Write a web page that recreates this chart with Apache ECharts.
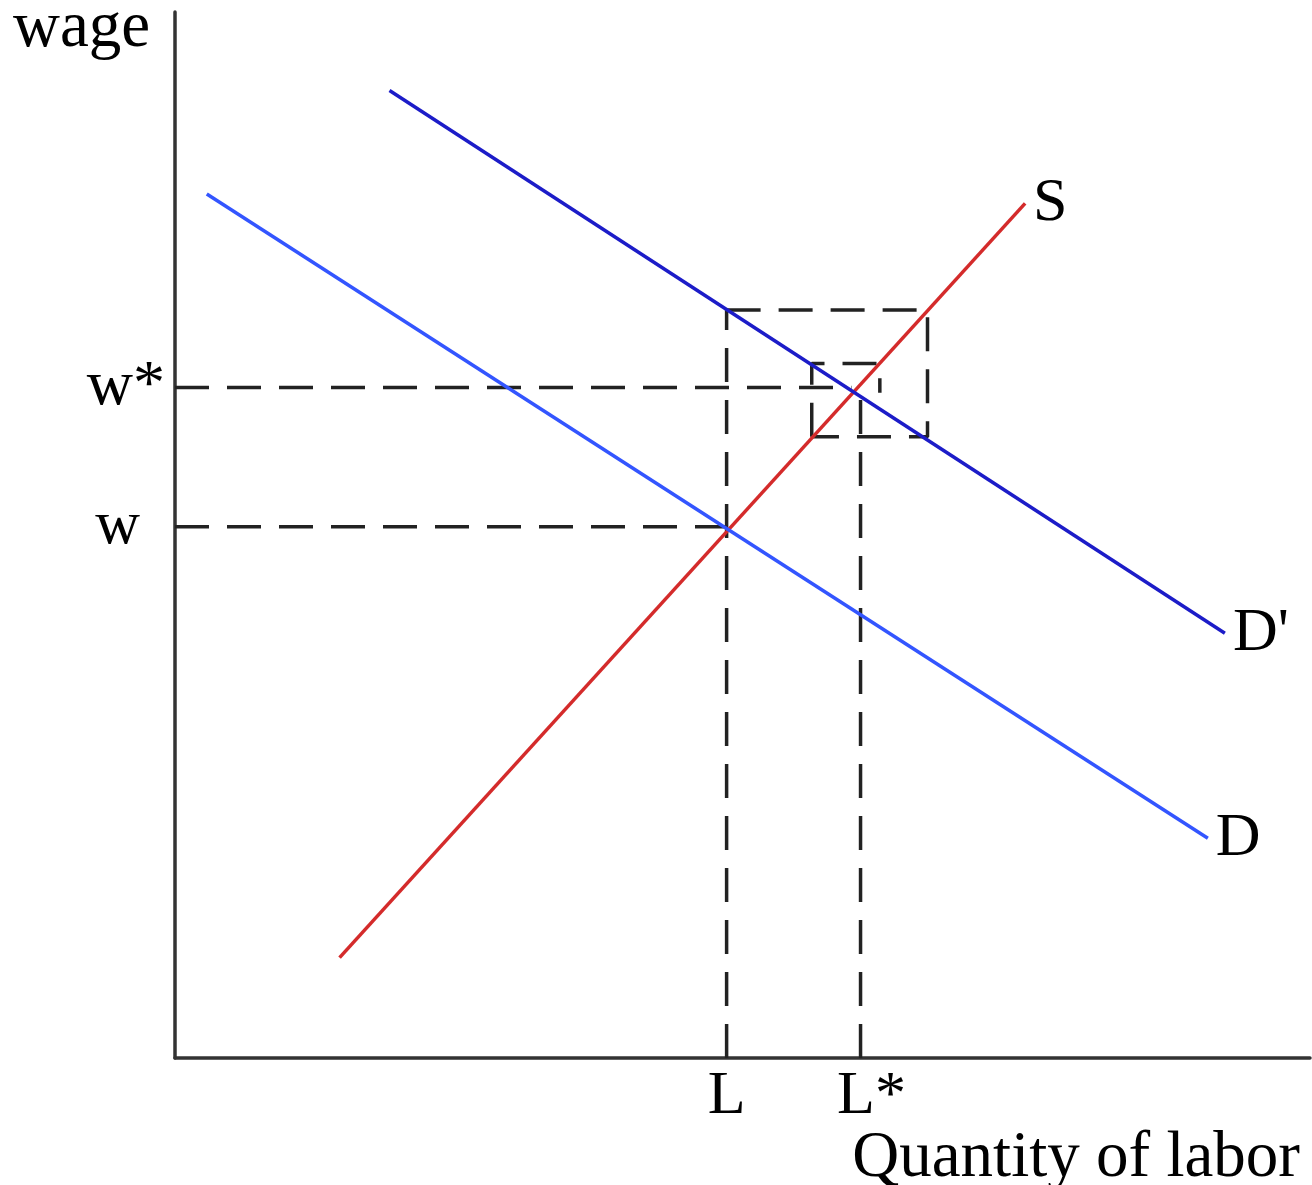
<!DOCTYPE html>
<html>
<head>
<meta charset="utf-8">
<script src="https://cdn.jsdelivr.net/npm/echarts@6/dist/echarts.min.js"></script>
<style>html,body{margin:0;padding:0;background:#fff;}#c{width:1312px;height:1185px;}</style>
</head>
<body>
<div id="c"></div>
<script>
// Curves (x = quantity of labor, y = wage), 0-100 schematic units
const supplyS = [[14.5, 9.6], [74.9, 81.7]];
const demandD = [[2.8, 82.6], [91.0, 21.0]];
const demandDPrime = [[18.9, 92.5], [92.5, 40.6]];
// Equilibrium levels
const wageLevels = [50.8, 64.1];
const wageLabels = ['w', 'w*'];
const laborLevels = [48.6, 60.4];
const laborLabels = ['L', 'L*'];
// Dashed guide paths
const guideW = [[0, 50.8], [48.6, 50.8]];
const guideWStar = [[0, 64.1], [59.6, 64.1]];
const guideL = [[48.6, 0], [48.6, 71.5]];
const guideLStar = [[60.4, 0], [60.4, 63.6]];
const guideBigBox = [[48.6, 71.5], [66.3, 71.5], [66.3, 59.4], [56.1, 59.4]];
const guideSmallBox = [[56.1, 59.4], [56.1, 66.4], [62.1, 66.4], [62.1, 63.6]];

const FONT = 'Liberation Serif';
const chart = echarts.init(document.getElementById('c'));

function curve(name, data, color) {
  return {
    type: 'line', name: name, data: data, symbol: 'none', silent: true,
    lineStyle: { color: color, width: 3.5 },
    endLabel: { show: true, formatter: name, fontFamily: FONT, fontSize: 62, color: '#000', distance: 8 }
  };
}
function guide(data) {
  return {
    type: 'line', data: data, symbol: 'none', silent: true,
    lineStyle: { color: '#222', width: 3.5, type: [34, 18] }
  };
}

chart.setOption({
  animation: false,
  grid: { left: 175, right: 2, top: 12, bottom: 127, outerBoundsMode: 'none' },
  xAxis: {
    type: 'value', min: 0, max: 100,
    splitLine: { show: false },
    axisLine: { show: true, onZero: false, lineStyle: { color: '#333', width: 3.5 } },
    axisTick: { show: false },
    axisLabel: {
      show: true, customValues: laborLevels, margin: 8,
      formatter: function (v) { const t = laborLabels[laborLevels.indexOf(v)]; return t === 'L' ? '{a|L}' : '{b|L*}'; },
      rich: {
        a: { fontFamily: FONT, fontSize: 62, color: '#000' },
        b: { fontFamily: FONT, fontSize: 62, color: '#000', padding: [0, 0, 0, 22] }
      },
      fontFamily: FONT, fontSize: 62, color: '#000'
    }
  },
  yAxis: {
    type: 'value', min: 0, max: 100,
    splitLine: { show: false },
    axisLine: { show: true, onZero: false, lineStyle: { color: '#333', width: 3.5 } },
    axisTick: { show: false },
    axisLabel: {
      show: true, customValues: wageLevels, margin: 10,
      formatter: function (v) { const t = wageLabels[wageLevels.indexOf(v)]; return t === 'w' ? '{p|w}' : '{q|w*}'; },
      rich: {
        p: { fontFamily: FONT, fontSize: 62, color: '#000', padding: [0, 25, 0, 0] },
        q: { fontFamily: FONT, fontSize: 64, color: '#000' }
      },
      fontFamily: FONT, fontSize: 62, color: '#000'
    }
  },
  graphic: [
    { type: 'text', left: 13, top: -4, style: { text: 'wage', font: '65px "Liberation Serif"', fill: '#000' } },
    { type: 'text', right: 12, bottom: -6, style: { text: 'Quantity of labor', font: '65px "Liberation Serif"', fill: '#000' } }
  ],
  series: [
    guide(guideW), guide(guideWStar), guide(guideL), guide(guideLStar),
    guide(guideBigBox), guide(guideSmallBox),
    curve('S', supplyS, '#d42b2b'),
    curve('D', demandD, '#3355ff'),
    curve("D'", demandDPrime, '#1c1cc8')
  ]
});
</script>
</body>
</html>
